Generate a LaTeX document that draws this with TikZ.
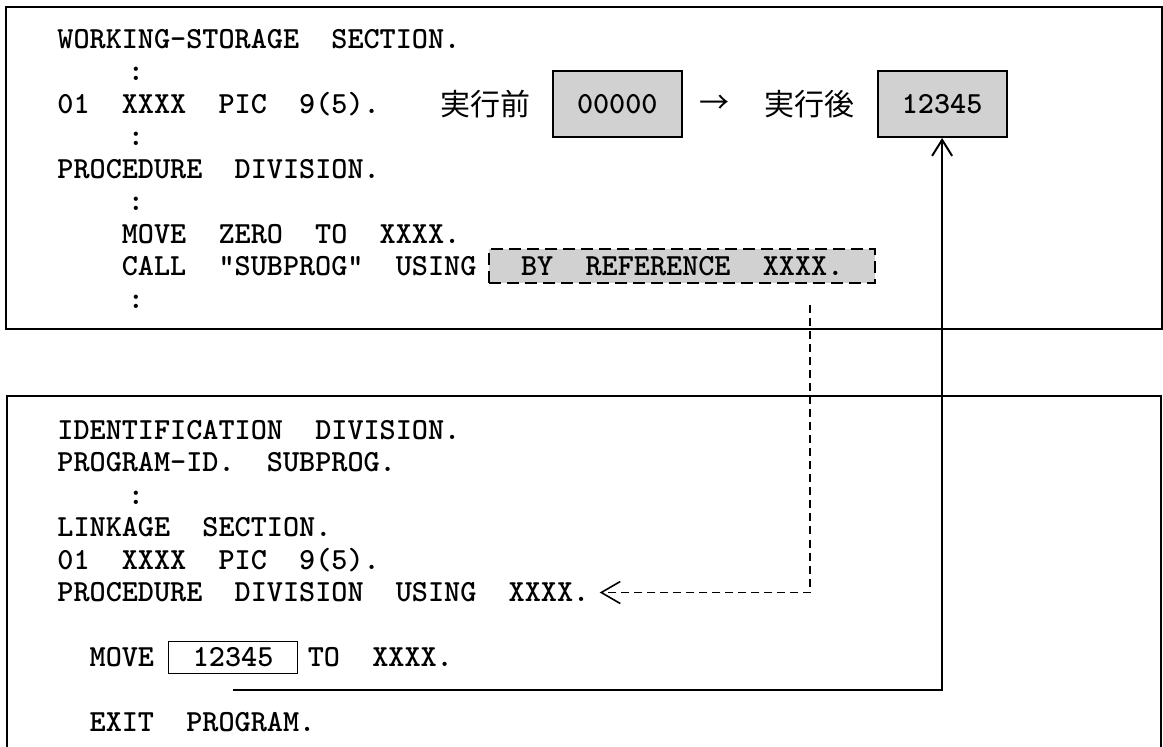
\documentclass[tikz,border=0pt]{standalone}
\usepackage{fontspec}
\newfontfamily\jpfont{Noto Sans CJK JP}
\usetikzlibrary{arrows.meta,positioning,calc}
\newcommand{\codefont}{\fontsize{15.35pt}{16pt}\selectfont\ttfamily\bfseries\frenchspacing}
\newcommand{\dotrow}{~~~~\hspace{3pt}:}

\begin{document}
\begin{tikzpicture}[
    x=0.5pt,y=-0.5pt,
    frame/.style={draw,line width=1pt,inner sep=0pt},
    code/.style={anchor=base west,inner sep=0pt,font=\codefont},
    jp/.style={inner sep=0pt,font=\fontsize{15pt}{16pt}\jpfont},
    valbox/.style={draw,line width=1pt,fill=black!18,minimum width=64.5pt,minimum height=33pt,inner sep=0pt,font=\codefont},
    refbox/.style={draw,line width=1pt,dash pattern=on 6pt off 3pt,fill=black!18,minimum width=193pt,minimum height=17pt,inner sep=0pt,font=\codefont},
    litbox/.style={draw,line width=0.75pt,minimum width=64.5pt,minimum height=16pt,inner sep=0pt,font=\codefont},
    link/.style={line width=1pt,-{Straight Barb[length=8pt,width=10pt]}},
    pass/.style={line width=0.8pt,dash pattern=on 4pt off 2.5pt,-{Straight Barb[length=9.5pt,width=11pt]}}
  ]
  \useasboundingbox (0,0) rectangle (1163,747);

  % calling program
  \node[frame,minimum width=578pt,minimum height=161pt] (caller) at (584,168) {};
  \node[code] (ws) at (57,48.4) {WORKING-STORAGE~~SECTION.};
  \node[code] (dots1) at (57,80.9) {\dotrow};
  \node[code] (wsitem) at (57,113.4) {01~~XXXX~~PIC~~9(5).};
  \node[jp,anchor=west] (before) at (440,104) {実行前};
  \node[valbox,right=10.5pt of before] (v0) {00000\hspace{6pt}};
  \node[jp] (to) at ($(v0.east)+(31.5,0)$) {→};
  \node[jp,anchor=west] (after) at ($(v0.east)+(81,0)$) {実行後};
  \node[valbox,right=11pt of after] (v1) {12345};
  \node[code] (dots2) at (57,145.9) {\dotrow};
  \node[code] (pd) at (57,178.4) {PROCEDURE~~DIVISION.};
  \node[code] (dots3) at (57,210.9) {\dotrow};
  \node[code] (mvzero) at (57,243.4) {~~~~MOVE~~ZERO~~TO~~XXXX.};
  \node[code] (call) at (57,275.9) {~~~~CALL~~"SUBPROG"~~USING};
  \node[refbox,right=5.7pt of call] (byref) {BY~~REFERENCE~~XXXX.};
  \node[code] (dots4) at (57,308.4) {\dotrow};

  % called program
  \node[frame,minimum width=577pt,minimum height=202pt] (callee) at (584,598) {};
  \node[code] (idd) at (57,439.4) {IDENTIFICATION~~DIVISION.};
  \node[code] (pid) at (57,471.9) {PROGRAM-ID.~~SUBPROG.};
  \node[code] (dots5) at (57,504.4) {\dotrow};
  \node[code] (lks) at (57,536.9) {LINKAGE~~SECTION.};
  \node[code] (lkitem) at (57,569.4) {01~~XXXX~~PIC~~9(5).};
  \node[code] (pdu) at (57,601.9) {PROCEDURE~~DIVISION~~USING~~XXXX.};
  \node[code] (mv) at (57,666.9) {~~MOVE};
  \node[litbox,right=6.7pt of mv] (lit) {12345\hspace{6pt}};
  \node[code] (mvrest) at ($(lit.east |- mv.base)+(9,0)$) {TO~~XXXX.};
  \node[code] (exitp) at (57,731.9) {~~EXIT~~PROGRAM.};

  % connectors
  \coordinate[below=8pt of lit.south] (litfoot);
  \draw[link] (litfoot) -| (v1.south);
  \coordinate (reffoot) at ($(byref.south)+(128,21)$);
  \coordinate[right=5pt of pdu] (pdutip);
  \draw[pass] (reffoot) |- (pdutip);
\end{tikzpicture}
\end{document}
